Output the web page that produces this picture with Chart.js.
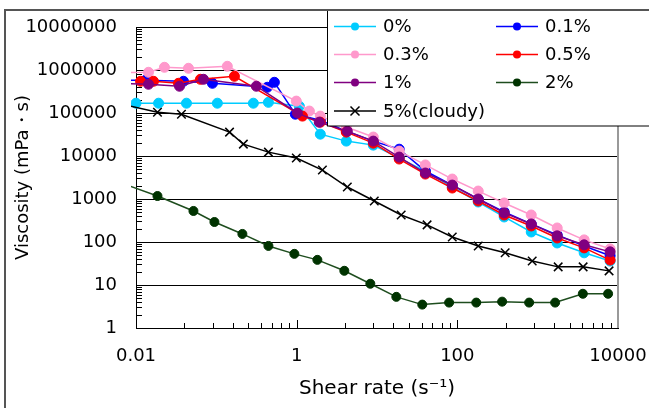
<!DOCTYPE html>
<html>
<head>
<meta charset="utf-8">
<script src="https://cdn.jsdelivr.net/npm/chart.js@4.4.0/dist/chart.umd.min.js"></script>
<style>
  html, body { margin: 0; padding: 0; background: #fff; }
  #wrap { width: 649px; height: 408px; position: relative; }
</style>
</head>
<body>
<div id="wrap"><canvas id="viscChart"></canvas></div>
<script>
const FONT = '"DejaVu Sans", sans-serif';

// shear rate (1/s) and viscosity (mPa·s) for each concentration
const rate0  = [0.01, 0.0191, 0.0425, 0.103, 0.289, 0.445, 1.08, 1.97, 4.15, 9.0, 18.9, 40, 86.5, 182, 383, 832, 1750, 3790, 7980];
const visc0  = [169000, 169000, 169000, 169000, 169000, 177000, 144000, 32200, 22200, 17900, 8950, 4470, 1900, 851, 382, 171, 95, 56, 36];

const rate01 = [0.008, 0.0131, 0.039, 0.0894, 0.432, 0.528, 0.963, 1.97, 4.15, 9.0, 18.9, 40, 86.5, 182, 383, 832, 1750, 3790, 7980];
const visc01 = [575000, 575000, 547000, 491000, 397000, 518000, 93800, 68000, 37800, 22200, 14400, 4470, 2110, 1000, 500, 263, 146, 81, 48];

const rate03 = [0.008, 0.0143, 0.0226, 0.045, 0.137, 0.99, 1.44, 1.97, 4.15, 9.0, 18.9, 40, 86.5, 182, 383, 832, 1750, 3790, 7980];
const visc03 = [870000, 885000, 1156000, 1096000, 1220000, 189000, 111000, 84700, 47100, 27600, 13000, 6200, 2910, 1530, 807, 425, 212, 112, 69];

const rate05 = [0.0114, 0.0165, 0.0338, 0.0634, 0.168, 1.18, 1.97, 4.15, 9.0, 18.9, 40, 86.5, 182, 383, 832, 1750, 3790, 7980];
const visc05 = [547000, 547000, 491000, 608000, 714000, 84700, 61200, 35900, 19900, 8500, 3800, 1800, 900, 425, 236, 124, 73, 38];

const rate1  = [0.008, 0.0143, 0.0348, 0.0692, 0.315, 1.02, 1.91, 4.27, 9.0, 18.9, 40, 86.5, 182, 383, 832, 1750, 3790, 7980];
const visc1  = [480000, 466000, 419000, 608000, 419000, 100000, 61200, 37800, 22200, 9440, 4020, 2110, 1000, 474, 263, 139, 86, 59];

const rate2  = [0.008, 0.0185, 0.0519, 0.0947, 0.211, 0.445, 0.936, 1.81, 3.92, 8.26, 17.4, 36.6, 79, 172, 361, 783, 1650, 3650, 7530];
const visc2  = [2060, 1174, 527, 292, 154, 81, 53, 38.4, 21.4, 10.7, 5.3, 3.5, 3.9, 3.9, 4.1, 3.9, 3.9, 6.25, 6.25];

const rate5  = [0.008, 0.0185, 0.0368, 0.146, 0.217, 0.445, 0.99, 2.09, 4.27, 9.25, 20, 42, 86.5, 182, 394, 855, 1800, 3680, 7740];
const visc5  = [149000, 104000, 93800, 35900, 18900, 12300, 8950, 4710, 1900, 900, 425, 250, 131, 81, 56, 36, 26.4, 26.4, 21.3];

const seriesLabels = ['0%', '0.1%', '0.3%', '0.5%', '1%', '2%', '5%(cloudy)'];
const seriesColors = ['#00ccff', '#0000ff', '#ff99cc', '#ff0000', '#800080', '#003300', '#000000'];
const lineColors   = ['#00ccff', '#0000ff', '#ff99cc', '#ff0000', '#800080', '#1e4d1e', '#000000'];
const seriesRates  = [rate0, rate01, rate03, rate05, rate1, rate2, rate5];
const seriesVisc   = [visc0, visc01, visc03, visc05, visc1, visc2, visc5];

const xTicks = [0.01, 1, 100, 10000];
const yTicks = [1, 10, 100, 1000, 10000, 100000, 1000000, 10000000];

// small inner ticks on both axes
const yMinor = [];
for (let d = 1; d < 1e7; d *= 10) for (let k = 2; k <= 9; k++) yMinor.push(d * k);
const xMinor = [];
for (const m of [0.01, 1, 100]) for (let k = 2; k <= 9; k++) xMinor.push(m * k * k);

function toPoints(xs, ys) {
  return xs.map((x, i) => ({ x, y: ys[i] }));
}

const datasets = seriesLabels.map((label, i) => {
  const isCross = i === 6;
  const r = isCross ? 6 : (i === 5 ? 4.5 : 5);
  return {
    label,
    data: toPoints(seriesRates[i], seriesVisc[i]),
    borderColor: lineColors[i],
    borderWidth: 1.5,
    pointBackgroundColor: seriesColors[i],
    pointBorderColor: seriesColors[i],
    pointBorderWidth: isCross ? 1.5 : 1,
    pointStyle: isCross ? 'crossRot' : 'circle',
    // points left of the axis only feed the line, no marker
    pointRadius: ctx => (ctx.raw && ctx.raw.x < 0.0099 ? 0 : r),
    tension: 0,
    order: 7 - i,
    clip: { left: 5, top: 6, right: 6, bottom: 6 }
  };
});

const plotDecor = {
  id: 'plotDecor',
  beforeDraw(chart) {
    const c = chart.ctx;
    c.save();
    c.fillStyle = '#fff';
    c.fillRect(0, 0, chart.width, chart.height);
    c.restore();
  },
  beforeDatasetsDraw(chart) {
    const { ctx, chartArea: a, scales: { x, y } } = chart;
    ctx.save();
    ctx.strokeStyle = '#000';
    ctx.lineWidth = 1;
    ctx.beginPath();
    yMinor.forEach(v => {
      const py = Math.round(y.getPixelForValue(v)) + 0.5;
      ctx.moveTo(a.left, py);
      ctx.lineTo(a.left + 6, py);
    });
    xMinor.forEach(v => {
      const px = Math.round(x.getPixelForValue(v)) + 0.5;
      ctx.moveTo(px, a.bottom);
      ctx.lineTo(px, a.bottom - 5);
    });
    xTicks.forEach(v => {
      const px = Math.round(x.getPixelForValue(v)) + 0.5;
      ctx.moveTo(px, a.bottom);
      ctx.lineTo(px, a.bottom - 8);
    });
    ctx.stroke();
    // right edge of the plot area
    ctx.strokeStyle = '#999';
    ctx.lineWidth = 2;
    ctx.beginPath();
    ctx.moveTo(a.right, a.top);
    ctx.lineTo(a.right, a.bottom);
    ctx.stroke();
    ctx.restore();
  },
  afterDatasetsDraw(chart) {
    const ctx = chart.ctx;
    ctx.save();
    // legend box
    const bx = 327.5, by = 10, bw = 340, bh = 116;
    ctx.fillStyle = '#fff';
    ctx.fillRect(bx, by, bw, bh);
    ctx.strokeStyle = '#000';
    ctx.lineWidth = 1;
    ctx.strokeRect(bx, by, bw, bh);

    const colX = [334, 496];
    const rowY = [26.5, 54.5, 82.5, 111];
    ctx.font = '18px ' + FONT;
    ctx.textBaseline = 'middle';
    chart.data.datasets.forEach((ds, i) => {
      const x0 = colX[i % 2], yy = rowY[Math.floor(i / 2)];
      const cx = x0 + 21;
      ctx.strokeStyle = ds.borderColor;
      ctx.lineWidth = 1.5;
      ctx.beginPath();
      ctx.moveTo(x0, yy);
      ctx.lineTo(x0 + 42, yy);
      ctx.stroke();
      if (ds.pointStyle === 'crossRot') {
        ctx.strokeStyle = ds.pointBorderColor;
        ctx.beginPath();
        ctx.moveTo(cx - 4.5, yy - 4.5); ctx.lineTo(cx + 4.5, yy + 4.5);
        ctx.moveTo(cx - 4.5, yy + 4.5); ctx.lineTo(cx + 4.5, yy - 4.5);
        ctx.stroke();
      } else {
        ctx.fillStyle = ds.pointBackgroundColor;
        ctx.beginPath();
        ctx.arc(cx, yy, 4, 0, Math.PI * 2);
        ctx.fill();
      }
      ctx.fillStyle = '#000';
      ctx.fillText(ds.label, x0 + 49, yy + 1);
    });

    // outer chart frame
    ctx.strokeStyle = '#555';
    ctx.lineWidth = 2;
    ctx.strokeRect(5, 10, 700, 500);
    ctx.restore();
  }
};

new Chart(document.getElementById('viscChart'), {
  type: 'line',
  data: { datasets },
  plugins: [plotDecor],
  options: {
    responsive: true,
    maintainAspectRatio: false,
    animation: false,
    layout: { padding: { top: 27, right: 31, bottom: 0, left: 0 } },
    plugins: {
      legend: { display: false },
      tooltip: { enabled: false }
    },
    scales: {
      x: {
        type: 'logarithmic',
        min: 0.01,
        max: 10000,
        afterFit: s => { s.height = 80; s.paddingLeft = 0; s.paddingRight = 0; },
        afterBuildTicks: s => { s.ticks = xTicks.map(v => ({ value: v })); },
        grid: { display: false, drawTicks: false },
        border: { display: true, color: '#000', width: 1 },
        ticks: {
          autoSkip: false, maxRotation: 0, padding: 18, color: '#000',
          font: { family: FONT, size: 18 },
          callback: v => String(v)
        },
        title: {
          display: true, text: 'Shear rate (s⁻¹)', color: '#000',
          font: { family: FONT, size: 20 }, padding: { top: 0, bottom: 7 }
        }
      },
      y: {
        type: 'logarithmic',
        min: 1,
        max: 10000000,
        afterFit: s => { s.width = 136; s.paddingTop = 0; s.paddingBottom = 0; },
        afterBuildTicks: s => { s.ticks = yTicks.map(v => ({ value: v })); },
        grid: { color: '#000', lineWidth: 1, drawTicks: false },
        border: { display: true, color: '#000', width: 1 },
        ticks: {
          autoSkip: false, padding: 19, color: '#000',
          font: { family: FONT, size: 18 },
          callback: v => String(v)
        },
        title: {
          display: true, text: 'Viscosity (mPa・s)', color: '#000',
          font: { family: FONT, size: 18 }, padding: { top: 13, bottom: 0 }
        }
      }
    }
  }
});
</script>
</body>
</html>
